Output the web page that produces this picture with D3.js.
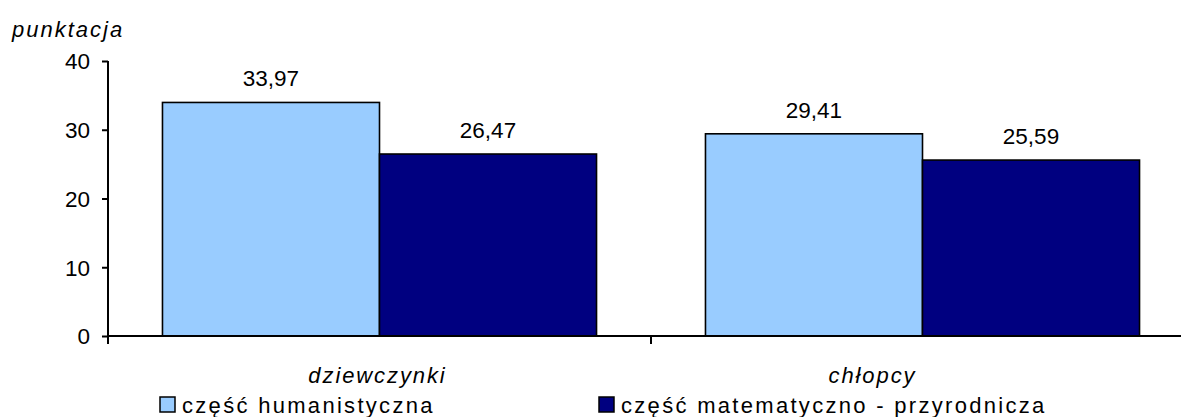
<!DOCTYPE html>
<html><head><meta charset="utf-8">
<script src="https://cdn.jsdelivr.net/npm/d3@7"></script>
<style>
body{margin:0;background:#fff;}
text{font-family:Arial,"Liberation Sans",sans-serif;fill:#000;}
</style></head>
<body>
<svg id="c" width="1181" height="417"></svg>
<script>
const categories = ["dziewczynki", "chłopcy"];
const seriesNames = ["część humanistyczna", "część matematyczno - przyrodnicza"];
const humanistyczna = [33.97, 29.41];
const matematyczna = [26.47, 25.59];
const yTicks = [0, 10, 20, 30, 40];
const yTitle = "punktacja";
const colors = ["#99CCFF", "#000080"];

(function () {
const svg = d3.select("#c");
const mLeft = 108, mRight = 1194, mTop = 61, mBottom = 336;

const x = d3.scaleBand().domain(categories).range([mLeft, mRight]).paddingInner(0).paddingOuter(0);
const x1 = d3.scaleBand().domain([0, 1]).range([0, x.bandwidth()]).paddingOuter(0.251).paddingInner(0);
const y = d3.scaleLinear().domain([0, 40]).range([mBottom, mTop]);

const fmt = v => d3.format(".2f")(v).replace(".", ",");
const data = categories.map((c, i) => ({cat: c, vals: [humanistyczna[i], matematyczna[i]]}));

const g = svg.append("g");
data.forEach(d => {
  d.vals.forEach((v, j) => {
    g.append("rect")
      .attr("x", x(d.cat) + x1(j))
      .attr("y", y(v))
      .attr("width", x1.bandwidth())
      .attr("height", y(0) - y(v))
      .attr("fill", colors[j])
      .attr("stroke", "#000")
      .attr("stroke-width", 1.6);
    g.append("text")
      .attr("x", x(d.cat) + x1(j) + x1.bandwidth() / 2)
      .attr("y", y(v) - 16)
      .attr("text-anchor", "middle")
      .style("font-size", "22.5px")
      .text(fmt(v));
  });
});

const yAxis = svg.append("g").attr("transform", `translate(${mLeft},0)`)
  .call(d3.axisLeft(y).tickValues(yTicks).tickSize(6).tickPadding(12).tickFormat(d3.format("d")));
yAxis.select(".domain").attr("stroke", "#000").attr("stroke-width", 2).attr("d", `M0,${mTop}V${mBottom}`);
yAxis.selectAll(".tick line").attr("stroke", "#000").attr("stroke-width", 2);
yAxis.selectAll(".tick text").style("font-size", "22.5px").style("font-family", "Arial, 'Liberation Sans', sans-serif").attr("dy", "0.35em");

const xAxisG = svg.append("g");
xAxisG.append("line").attr("x1", mLeft).attr("x2", mRight).attr("y1", mBottom).attr("y2", mBottom)
  .attr("stroke", "#000").attr("stroke-width", 2);
const bounds = categories.map(c => x(c)).concat([x(categories[categories.length - 1]) + x.bandwidth()]);
xAxisG.selectAll("line.t").data(bounds).join("line").attr("class", "t")
  .attr("x1", d => d).attr("x2", d => d).attr("y1", mBottom).attr("y2", mBottom + 8)
  .attr("stroke", "#000").attr("stroke-width", 2);
const labelDx = [-2, -50];
xAxisG.selectAll("text.c").data(categories).join("text").attr("class", "c")
  .attr("x", (d, i) => x(d) + x.bandwidth() / 2 + labelDx[i])
  .attr("y", 383)
  .attr("text-anchor", "middle")
  .style("font-size", "22px").style("font-style", "italic").style("letter-spacing", "1.9px")
  .text(d => d);

svg.append("text").attr("x", 12).attr("y", 37)
  .style("font-size", "22px").style("font-style", "italic").style("letter-spacing", "2px")
  .text(yTitle);

const legX = [160, 599];
seriesNames.forEach((s, j) => {
  svg.append("rect").attr("x", legX[j]).attr("y", 397).attr("width", 15).attr("height", 15)
    .attr("fill", colors[j]).attr("stroke", "#000").attr("stroke-width", 1.5);
  svg.append("text").attr("x", legX[j] + 22).attr("y", 413)
    .style("font-size", "22px").style("letter-spacing", "2.3px").text(s);
});
})();
</script>
</body></html>
